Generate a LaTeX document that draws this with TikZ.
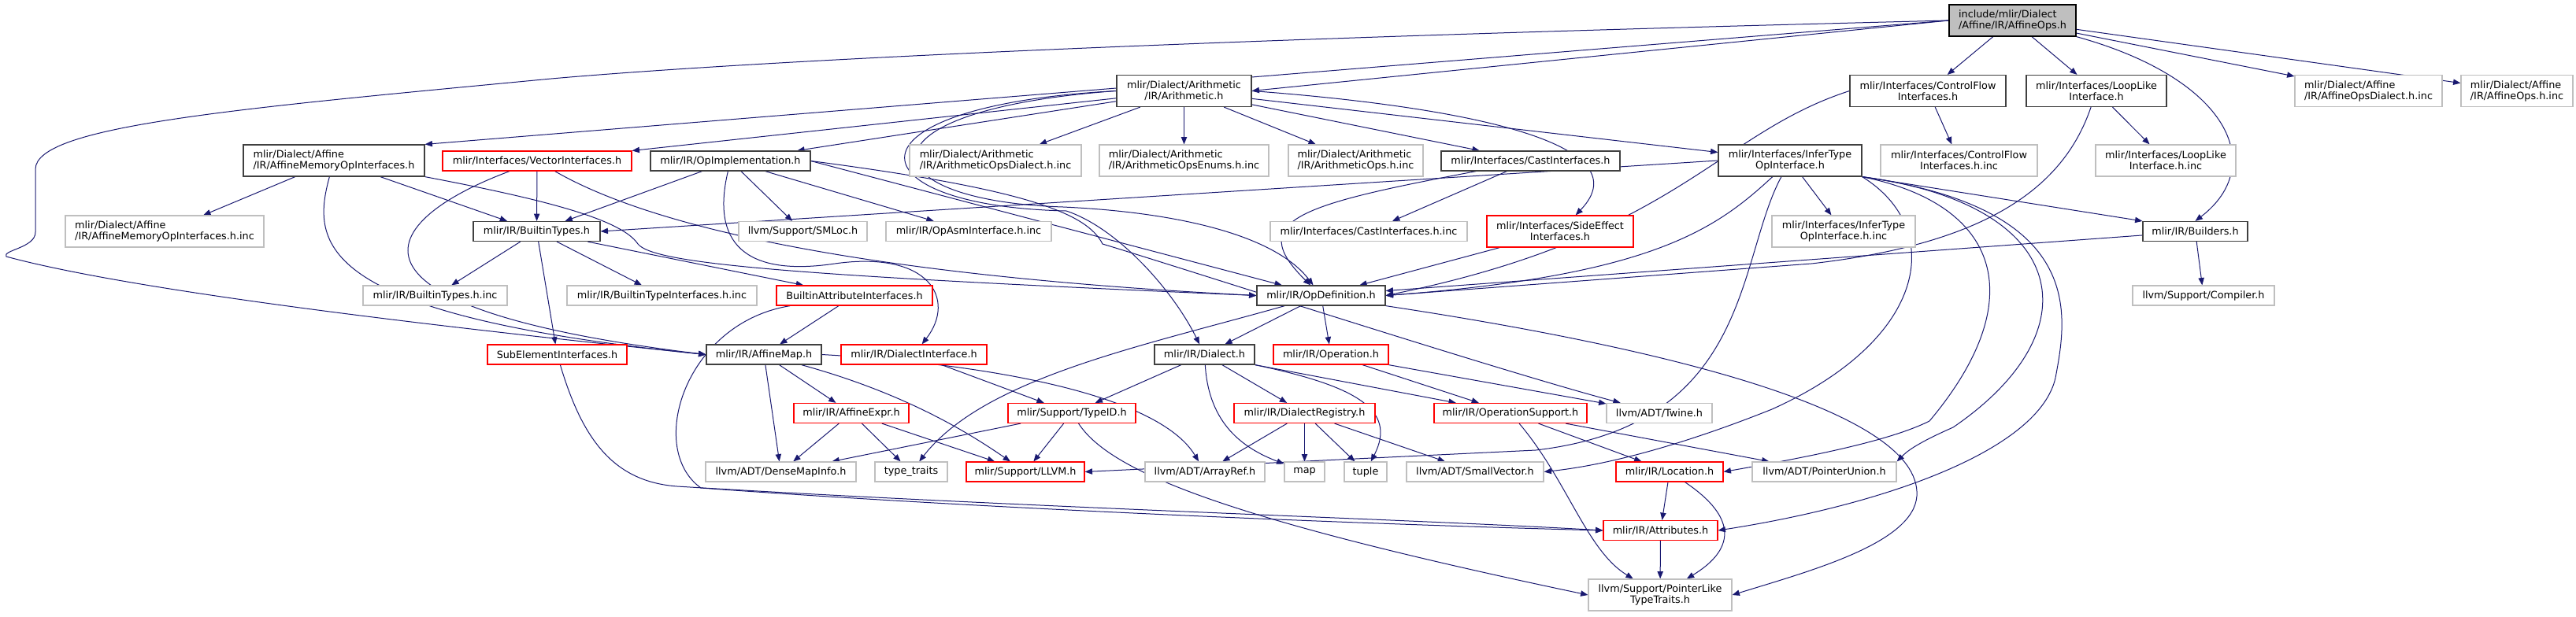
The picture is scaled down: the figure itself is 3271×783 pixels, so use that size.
\documentclass[tikz,border=0pt]{standalone}
\usepackage{fontspec}
\setmainfont{DejaVu Sans}
\usepackage{tikz}
\usetikzlibrary{arrows.meta,backgrounds}
\definecolor{linkblue}{HTML}{191970}
\definecolor{grayline}{HTML}{BFBFBF}

\begin{document}
\begin{tikzpicture}[
  x=0.75pt, y=-0.75pt,
  font=\fontsize{9.6}{10.5}\selectfont,
  box/.style={draw, line width=0.9pt, fill=white, align=center, minimum width=#1*0.75pt,
              minimum height=18.75pt, inner xsep=1pt, inner ysep=1pt},
  box/.default=150,
  tall/.style={minimum height=30pt},
  doc/.style={draw=black!75},
  nodoc/.style={draw=grayline},
  trunc/.style={draw=red},
  arr/.style={-{Triangle[length=7pt, width=5.5pt]}, draw=linkblue, line width=0.75pt}]
\useasboundingbox (0,0) rectangle (3271,783);
\node[box=161, tall, draw=black, fill=grayline, align=left] (root) at (2555.5,26) {include/mlir/Dialect\\/Affine/IR/AffineOps.h};
\node[box=171, tall, doc] (arith) at (1503.5,115.5) {mlir/Dialect/Arithmetic\\/IR/Arithmetic.h};
\node[box=198, tall, doc] (cf) at (2448,115.5) {mlir/Interfaces/ControlFlow\\Interfaces.h};
\node[box=178, tall, doc] (loop) at (2662,115.5) {mlir/Interfaces/LoopLike\\Interface.h};
\node[box=187, tall, nodoc, align=left] (affdialinc) at (3007.5,115.5) {mlir/Dialect/Affine\\/IR/AffineOpsDialect.h.inc};
\node[box=142, tall, nodoc, align=left] (affopsinc) at (3196,115.5) {mlir/Dialect/Affine\\/IR/AffineOps.h.inc};
\node[box=230, tall, doc, align=left] (memop) at (424,204) {mlir/Dialect/Affine\\/IR/AffineMemoryOpInterfaces.h};
\node[box=240, trunc] (vector) at (682,204.5) {mlir/Interfaces/VectorInterfaces.h};
\node[box=203, doc] (opimpl) at (927.5,204.5) {mlir/IR/OpImplementation.h};
\node[box=218, tall, nodoc, align=left] (aridialinc) at (1264,204) {mlir/Dialect/Arithmetic\\/IR/ArithmeticOpsDialect.h.inc};
\node[box=215, tall, nodoc, align=left] (arienuminc) at (1503.5,204) {mlir/Dialect/Arithmetic\\/IR/ArithmeticOpsEnums.h.inc};
\node[box=171, tall, nodoc, align=left] (ariopsinc) at (1721.5,204) {mlir/Dialect/Arithmetic\\/IR/ArithmeticOps.h.inc};
\node[box=227, doc] (cast) at (1943.5,204.5) {mlir/Interfaces/CastInterfaces.h};
\node[box=182, tall, doc] (infer) at (2273,204) {mlir/Interfaces/InferType\\OpInterface.h};
\node[box=199, tall, nodoc] (cfinc) at (2487.5,204) {mlir/Interfaces/ControlFlow\\Interfaces.h.inc};
\node[box=178, tall, nodoc] (loopinc) at (2750,204) {mlir/Interfaces/LoopLike\\Interface.h.inc};
\node[box=252, tall, nodoc, align=left] (memopinc) at (209,294) {mlir/Dialect/Affine\\/IR/AffineMemoryOpInterfaces.h.inc};
\node[box=161, doc] (btypes) at (681.5,294) {mlir/IR/BuiltinTypes.h};
\node[box=163, nodoc] (smloc) at (1019.5,294) {llvm/Support/SMLoc.h};
\node[box=210, nodoc] (opasminc) at (1230,294) {mlir/IR/OpAsmInterface.h.inc};
\node[box=250, nodoc] (castinc) at (1738,294) {mlir/Interfaces/CastInterfaces.h.inc};
\node[box=186, tall, trunc] (sideeff) at (1981,294) {mlir/Interfaces/SideEffect\\Interfaces.h};
\node[box=182, tall, nodoc] (inferinc) at (2341,294) {mlir/Interfaces/InferType\\OpInterface.h.inc};
\node[box=133, doc] (builders) at (2787.5,294) {mlir/IR/Builders.h};
\node[box=183, nodoc] (btypesinc) at (552.5,375.5) {mlir/IR/BuiltinTypes.h.inc};
\node[box=241, nodoc] (btypeifinc) at (840.5,375.5) {mlir/IR/BuiltinTypeInterfaces.h.inc};
\node[box=198, trunc] (battrif) at (1085,375.5) {BuiltinAttributeInterfaces.h};
\node[box=163, doc] (opdef) at (1677.5,375.5) {mlir/IR/OpDefinition.h};
\node[box=180, nodoc] (compiler) at (2798,375.5) {llvm/Support/Compiler.h};
\node[box=177, trunc] (subelem) at (707.5,450.5) {SubElementInterfaces.h};
\node[box=146, doc] (affmap) at (970,450.5) {mlir/IR/AffineMap.h};
\node[box=185, trunc] (dialif) at (1160.5,450.5) {mlir/IR/DialectInterface.h};
\node[box=127, doc] (dialect) at (1529.5,450.5) {mlir/IR/Dialect.h};
\node[box=146, trunc] (operation) at (1690,450.5) {mlir/IR/Operation.h};
\node[box=146, trunc] (affexpr) at (1081,525) {mlir/IR/AffineExpr.h};
\node[box=162, trunc] (typeid) at (1361,525) {mlir/Support/TypeID.h};
\node[box=179, trunc] (registry) at (1656.5,525) {mlir/IR/DialectRegistry.h};
\node[box=194, trunc] (opsupport) at (1918,525) {mlir/IR/OperationSupport.h};
\node[box=134, nodoc] (twine) at (2107,525) {llvm/ADT/Twine.h};
\node[box=191, nodoc] (densemap) at (991.5,599.5) {llvm/ADT/DenseMapInfo.h};
\node[box=92, nodoc] (typetraits) at (1157,599.5) {type\_traits};
\node[box=150, trunc] (llvmh) at (1302,599.5) {mlir/Support/LLVM.h};
\node[box=152, nodoc] (arrayref) at (1530,599.5) {llvm/ADT/ArrayRef.h};
\node[box=51, nodoc] (map) at (1656.5,599.5) {map};
\node[box=54, nodoc] (tuple) at (1734,599.5) {tuple};
\node[box=174, nodoc] (smallvec) at (1873,599.5) {llvm/ADT/SmallVector.h};
\node[box=136, trunc] (location) at (2120,599.5) {mlir/IR/Location.h};
\node[box=183, nodoc] (ptrunion) at (2316.5,599.5) {llvm/ADT/PointerUnion.h};
\node[box=145, trunc] (attrs) at (2108.5,674) {mlir/IR/Attributes.h};
\node[box=182, tall, nodoc] (ptrlike) at (2108,756) {llvm/Support/PointerLike\\TypeTraits.h};
\begin{scope}[on background layer]
\draw[arr] (root.west) .. controls (1500,50) and (950,78) .. (700,100) .. controls (300,138) and (45,160) .. (45,215) -- (45,295) .. controls (45,315) and (2,318) .. (8,326) .. controls (200,378) and (700,430) .. (affmap.west);
\draw[arr] (root.west) -- (memop.north east);
\draw[arr] (root.west) -- (arith.east);
\draw[arr] (root) -- (cf);
\draw[arr] (root) -- (loop);
\draw[arr] (root) -- (affdialinc);
\draw[arr] (root) -- (affopsinc);
\draw[arr] (root.south east) .. controls (2830,100) and (2880,210) .. (builders.north);
\draw[arr] (arith) -- (vector);
\draw[arr] (arith) -- (opimpl);
\draw[arr] (arith) -- (aridialinc);
\draw[arr] (arith) -- (arienuminc);
\draw[arr] (arith) -- (ariopsinc);
\draw[arr] (arith) -- (cast);
\draw[arr] (arith) -- (infer);
\draw[arr] (arith.east) .. controls (1850,135) and (2090,180) .. (sideeff);
\draw[arr] (arith.west) .. controls (1080,140) and (1100,255) .. (1350,263) .. controls (1500,270) and (1620,300) .. (opdef);
\draw[arr] (arith.west) .. controls (1060,135) and (1080,262) .. (1354,268) .. controls (1420,290) and (1490,370) .. (dialect);
\draw[arr] (memop) -- (memopinc);
\draw[arr] (memop) -- (btypes);
\draw[arr] (memop) .. controls (395,310) and (400,400) .. (affmap.west);
\draw[arr] (memop.south east) .. controls (700,255) and (790,280) .. (810,310) .. controls (830,335) and (1000,350) .. (opdef.west);
\draw[arr] (vector) -- (btypes);
\draw[arr] (vector) .. controls (480,280) and (400,390) .. (affmap.west);
\draw[arr] (vector) .. controls (830,290) and (1100,350) .. (opdef.west);
\draw[arr] (opimpl) -- (btypes);
\draw[arr] (opimpl) .. controls (900,320) and (960,350) .. (1060,335) .. controls (1180,318) and (1215,380) .. (dialif);
\draw[arr] (opimpl) -- (smloc);
\draw[arr] (opimpl) -- (opasminc);
\draw[arr] (opimpl.east) -- (opdef);
\draw[arr] (opimpl.east) .. controls (1300,240) and (1380,270) .. (1400,310) .. controls (1500,340) and (1900,470) .. (twine);
\draw[arr] (cast) -- (castinc);
\draw[arr] (cast) .. controls (1650,260) and (1580,280) .. (opdef);
\draw[arr] (infer.west) -- (btypes.east);
\draw[arr] (infer) -- (inferinc);
\draw[arr] (infer.south east) -- (builders.north west);
\draw[arr] (infer) .. controls (2180,290) and (2100,350) .. (opdef.east);
\draw[arr] (infer) .. controls (2205,330) and (2225,540) .. (1950,572) -- (llvmh.east);
\draw[arr] (infer.south east) .. controls (2470,290) and (2450,430) .. (2250,520) .. controls (2150,560) and (2050,590) .. (smallvec.east);
\draw[arr] (infer.south east) .. controls (2540,260) and (2580,380) .. (2450,535) .. controls (2400,560) and (2300,580) .. (location.east);
\draw[arr] (infer.south east) .. controls (2630,260) and (2660,420) .. (2480,543) .. controls (2430,565) and (2420,575) .. (ptrunion.north east);
\draw[arr] (infer.south east) .. controls (2650,265) and (2625,400) .. (2610,480) .. controls (2590,570) and (2400,640) .. (attrs.east);
\draw[arr] (sideeff) -- (opdef);
\draw[arr] (cf) -- (cfinc);
\draw[arr] (cf.west) .. controls (2180,170) and (2130,300) .. (opdef.east);
\draw[arr] (loop) -- (loopinc);
\draw[arr] (loop) .. controls (2620,240) and (2520,310) .. (2300,335) -- (opdef.east);
\draw[arr] (builders) -- (opdef);
\draw[arr] (builders) -- (compiler);
\draw[arr] (btypes) -- (btypesinc);
\draw[arr] (btypes) -- (btypeifinc);
\draw[arr] (btypes) -- (battrif);
\draw[arr] (btypes) -- (subelem);
\draw[arr] (battrif) -- (affmap);
\draw[arr] (battrif) .. controls (870,410) and (820,570) .. (890,620) .. controls (1300,650) and (1800,668) .. (attrs.west);
\draw[arr] (subelem) .. controls (740,560) and (780,612) .. (860,618) .. controls (1300,645) and (1800,660) .. (attrs.west);
\draw[arr] (dialif) -- (typeid);
\draw[arr] (affmap) -- (densemap);
\draw[arr] (affmap) -- (affexpr);
\draw[arr] (affmap) .. controls (1150,500) and (1230,550) .. (llvmh);
\draw[arr] (affmap.east) .. controls (1250,462) and (1470,500) .. (arrayref);
\draw[arr] (affexpr) -- (densemap);
\draw[arr] (affexpr) -- (typetraits);
\draw[arr] (affexpr) -- (llvmh);
\draw[arr] (typeid) -- (densemap);
\draw[arr] (typeid) -- (llvmh);
\draw[arr] (typeid) .. controls (1410,600) and (1560,660) .. (ptrlike.west);
\draw[arr] (dialect) -- (typeid);
\draw[arr] (dialect) -- (registry);
\draw[arr] (dialect.south east) -- (opsupport);
\draw[arr] (dialect) .. controls (1535,540) and (1580,570) .. (map);
\draw[arr] (dialect.south east) .. controls (1720,490) and (1775,520) .. (tuple);
\draw[arr] (registry) -- (arrayref);
\draw[arr] (registry) -- (map);
\draw[arr] (registry) -- (tuple);
\draw[arr] (registry) -- (smallvec);
\draw[arr] (operation) -- (opsupport);
\draw[arr] (operation) -- (twine);
\draw[arr] (opsupport) .. controls (1990,610) and (2015,700) .. (ptrlike);
\draw[arr] (opsupport) -- (location);
\draw[arr] (opsupport) -- (ptrunion);
\draw[arr] (location) -- (attrs);
\draw[arr] (location) .. controls (2210,660) and (2200,700) .. (ptrlike);
\draw[arr] (attrs) -- (ptrlike);
\draw[arr] (opdef) -- (dialect);
\draw[arr] (opdef) -- (operation);
\draw[arr] (opdef) .. controls (1450,440) and (1250,480) .. (typetraits);
\draw[arr] (opdef.south east) .. controls (2100,440) and (2440,520) .. (2434,630) .. controls (2430,690) and (2300,725) .. (ptrlike.east);
\end{scope}
\end{tikzpicture}
\end{document}
